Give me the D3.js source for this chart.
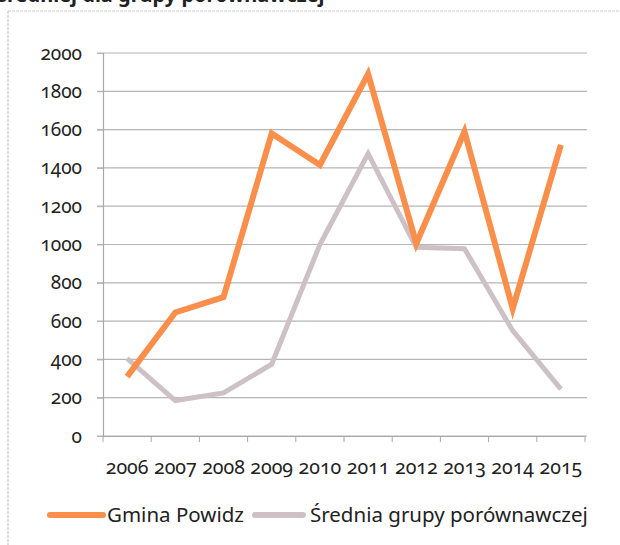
<!DOCTYPE html>
<html>
<head>
<meta charset="utf-8">
<script src="https://cdn.jsdelivr.net/npm/d3@7"></script>
<style>
  html, body { margin: 0; padding: 0; background: #fff; }
  svg { display: block; }
  text { font-family: "Noto Sans", "Open Sans", sans-serif; fill: #222; }
  .num { font-feature-settings: "onum" 1; font-variant-numeric: oldstyle-nums; }
</style>
</head>
<body>
<svg id="chart" width="620" height="545"></svg>
<script>
// Years and values for the two series
const years = ["2006", "2007", "2008", "2009", "2010", "2011", "2012", "2013", "2014", "2015"];
const gminaPowidz = [310, 645, 725, 1580, 1415, 1890, 1005, 1590, 665, 1520];
const sredniaGrupy = [405, 185, 225, 375, 1000, 1475, 985, 978, 550, 245];
const yTicks = [0, 200, 400, 600, 800, 1000, 1200, 1400, 1600, 1800, 2000];
const seriesNames = ["Gmina Powidz", "Średnia grupy porównawczej"];
const seriesColors = ["#f98f4b", "#cdc1c6"];

const svg = d3.select("#chart");

// Heading, clipped by the top edge
svg.append("text")
  .attr("x", -3).attr("y", 2)
  .attr("font-size", 20).attr("font-weight", "bold")
  .text("średniej dla grupy porównawczej");

// Frame of the chart area
svg.append("line").attr("x1", 8).attr("x2", 8).attr("y1", 11).attr("y2", 545)
  .attr("stroke", "#bbb").attr("stroke-width", 1).attr("stroke-dasharray", "3,1");
svg.append("line").attr("x1", 8).attr("x2", 620).attr("y1", 11).attr("y2", 11)
  .attr("stroke", "#ccc").attr("stroke-width", 1).attr("stroke-dasharray", "3,1");

const x = d3.scaleBand().domain(years).range([103, 585]);
const y = d3.scaleLinear().domain([0, 2000]).range([436, 53]);

// Horizontal gridlines
svg.append("g")
  .selectAll("line").data(yTicks).join("line")
  .attr("x1", 97).attr("x2", 587)
  .attr("y1", d => y(d)).attr("y2", d => y(d))
  .attr("stroke", "#b5b5b5").attr("stroke-width", 1.2);

// Y axis
const yAxis = svg.append("g").attr("transform", "translate(103,0)")
  .call(d3.axisLeft(y).tickValues(yTicks).tickSize(6).tickPadding(15).tickFormat(d3.format("d")));
yAxis.select(".domain").attr("stroke", "#a8a8a8").attr("stroke-width", 1.2);
yAxis.selectAll(".tick line").attr("stroke", "#b5b5b5");
yAxis.selectAll("text").attr("class", "num").attr("font-size", 19)
  .attr("font-family", "'Noto Sans', sans-serif").attr("fill", "#222");

// X axis
const xAxis = svg.append("g").attr("transform", "translate(0,436)")
  .call(d3.axisBottom(x).tickSize(6).tickPadding(18).tickSizeOuter(0));
xAxis.select(".domain").attr("stroke", "#a8a8a8").attr("stroke-width", 1.2);
xAxis.selectAll(".tick line").remove();
// Tick marks at band boundaries
svg.append("g").selectAll("line").data(years.concat(["end"])).join("line")
  .attr("x1", (d, i) => 103 + i * x.step()).attr("x2", (d, i) => 103 + i * x.step())
  .attr("y1", 436).attr("y2", 442)
  .attr("stroke", "#a8a8a8");
xAxis.selectAll("text").attr("class", "num").attr("font-size", 19.5)
  .attr("font-family", "'Noto Sans', sans-serif").attr("fill", "#222");

// Series lines
const line = d3.line().x((d, i) => x(years[i]) + x.bandwidth() / 2).y(d => y(d));
[sredniaGrupy, gminaPowidz].forEach((vals, k) => {
  const idx = k === 0 ? 1 : 0;
  svg.append("path").datum(vals)
    .attr("fill", "none")
    .attr("stroke", seriesColors[idx])
    .attr("stroke-width", idx === 0 ? 6 : 5)
    .attr("stroke-linejoin", "miter")
    .attr("d", line);
});

// Legend
const legend = [
  { x1: 50, x2: 103, tx: 107 },
  { x1: 255, x2: 303, tx: 310 }
];
legend.forEach((l, i) => {
  svg.append("line").attr("x1", l.x1).attr("x2", l.x2).attr("y1", 515).attr("y2", 515)
    .attr("stroke", seriesColors[i]).attr("stroke-width", 6).attr("stroke-linecap", "round");
  svg.append("text").attr("x", l.tx).attr("y", 522)
    .attr("font-size", 20.5).text(seriesNames[i]);
});
</script>
</body>
</html>
